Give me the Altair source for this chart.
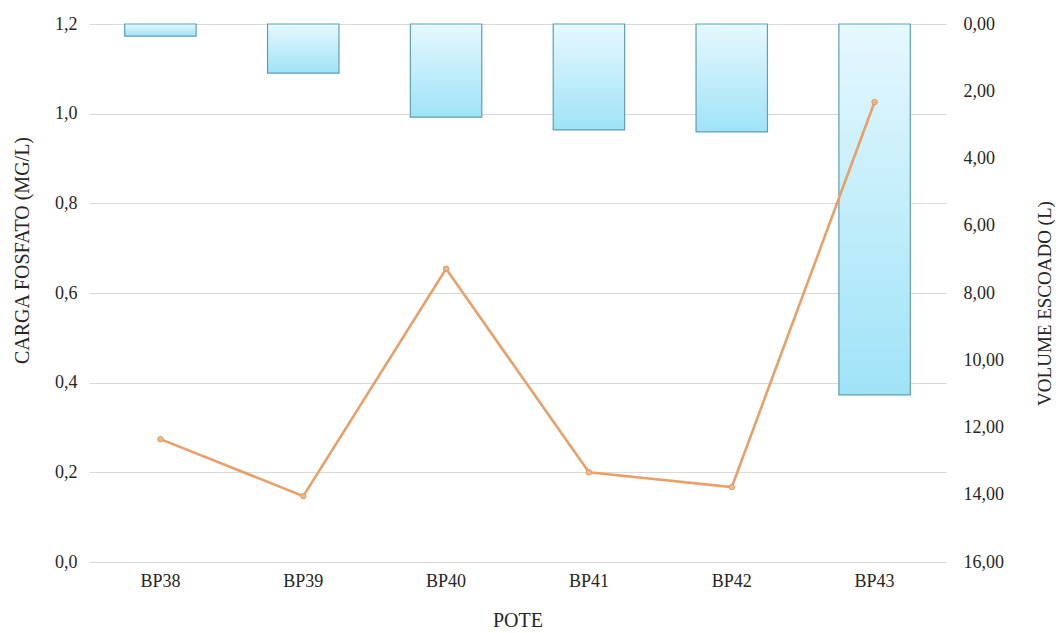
import altair as alt
import pandas as pd

# Pote samples, runoff volume (L) and phosphate load (mg/L)
potes = ["BP38", "BP39", "BP40", "BP41", "BP42", "BP43"]
volume_escoado = [0.36, 1.46, 2.77, 3.15, 3.21, 11.03]
carga_fosfato = [0.274, 0.147, 0.654, 0.200, 0.167, 1.026]

df = pd.DataFrame({
    "pote": potes,
    "volume": volume_escoado,
    "carga": carga_fosfato,
})

FONT = "Liberation Serif"
TXT = "#262626"

x_enc = alt.X(
    "pote:N",
    sort=potes,
    title="POTE",
    scale=alt.Scale(paddingInner=0.5, paddingOuter=0.25),
    axis=alt.Axis(
        labelAngle=0, labelFont=FONT, labelFontSize=18, labelColor=TXT,
        labelPadding=10, ticks=False, domain=False, grid=False,
        titleFont=FONT, titleFontSize=20, titleFontWeight="normal",
        titleColor=TXT, titlePadding=20,
    ),
)

bar_fill = alt.Gradient(
    gradient="linear",
    stops=[
        alt.GradientStop(color="#e6f8fe", offset=0),
        alt.GradientStop(color="#9fe3f7", offset=1),
    ],
    x1=0, x2=0, y1=0, y2=1,
)

bars = alt.Chart(df).mark_bar(
    fill=bar_fill, stroke="#5f9fb2", strokeWidth=1.2
).encode(
    x=x_enc,
    y=alt.Y(
        "volume:Q",
        title="VOLUME ESCOADO (L)",
        scale=alt.Scale(domain=[0, 16], reverse=True, nice=False, zero=True),
        axis=alt.Axis(
            orient="right", values=[0, 2, 4, 6, 8, 10, 12, 14, 16],
            labelExpr="replace(format(datum.value, '.2f'), '.', ',')",
            labelFont=FONT, labelFontSize=18, labelColor=TXT, labelPadding=17,
            ticks=False, domain=False, grid=False,
            titleFont=FONT, titleFontSize=19, titleFontWeight="normal",
            titleColor=TXT, titleAngle=-90, titleBaseline="alphabetic",
            titleX=104, titleY=279,
        ),
    ),
)

line = alt.Chart(df).mark_line(
    color="#e8a068", strokeWidth=2.6,
    point=alt.OverlayMarkDef(filled=True, fill="#efb88c", stroke="#e29a62",
                             strokeWidth=1, size=30),
).encode(
    x=alt.X("pote:N", sort=potes),
    y=alt.Y(
        "carga:Q",
        title="CARGA FOSFATO (MG/L)",
        scale=alt.Scale(domain=[0, 1.2], nice=False),
        axis=alt.Axis(
            orient="left", values=[0, 0.2, 0.4, 0.6, 0.8, 1.0, 1.2],
            labelExpr="replace(format(datum.value, '.1f'), '.', ',')",
            labelFont=FONT, labelFontSize=18, labelColor=TXT, labelPadding=12,
            ticks=False, domain=False, grid=True, gridColor="#d9d9d9",
            gridWidth=1, zindex=0,
            titleFont=FONT, titleFontSize=20, titleFontWeight="normal",
            titleColor=TXT, titleAngle=-90, titleBaseline="alphabetic",
            titleX=-61, titleY=226,
        ),
    ),
)

chart = alt.layer(bars, line).resolve_scale(y="independent").properties(
    width=857,
    height=538,
    padding={"left": 89, "top": 24, "right": 110, "bottom": 71},
    autosize=alt.AutoSizeParams(type="none"),
    background="white",
).configure(
    font=FONT
).configure_axis(
    labelFont=FONT, titleFont=FONT
).configure_view(stroke=None)

chart.save("out.html", embed_options={"renderer": "svg", "actions": False})
